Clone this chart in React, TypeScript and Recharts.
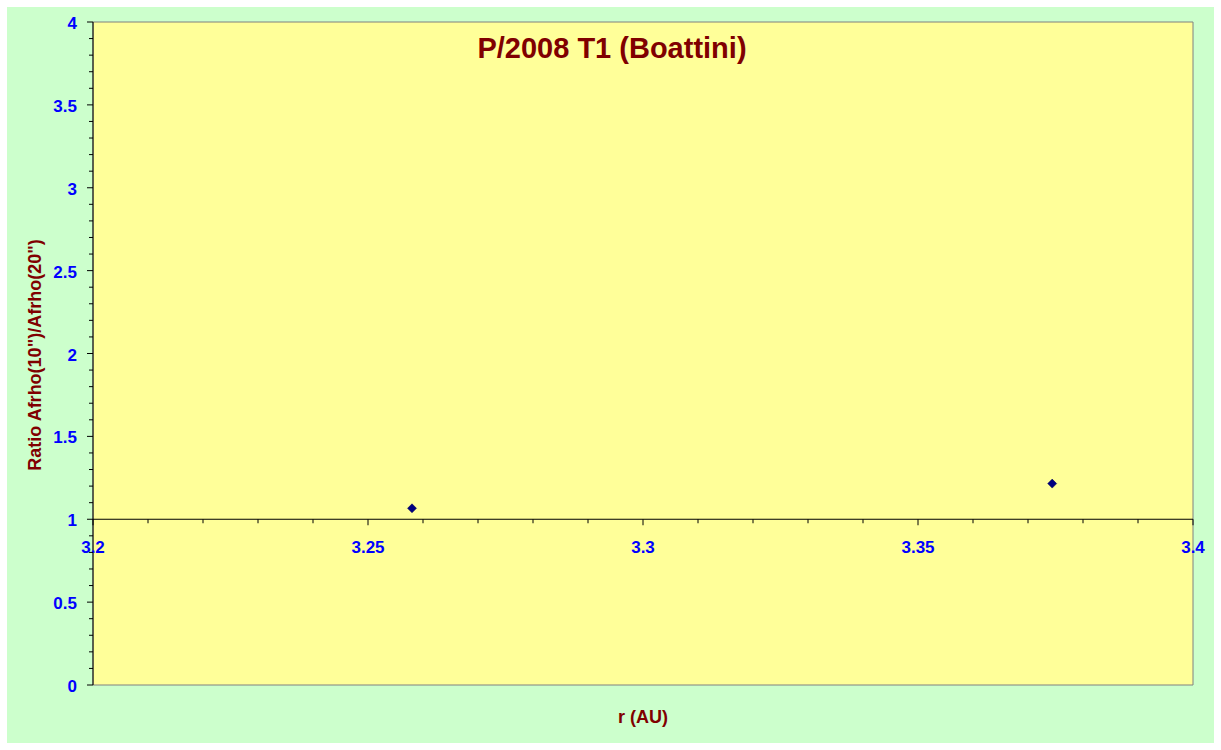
import { ReferenceArea, ReferenceDot, ReferenceLine, Scatter, ScatterChart, XAxis, YAxis } from "recharts";

// r (AU) vs Afrho(10")/Afrho(20")
const rValues = [3.258, 3.3744];
const ratioValues = [1.066, 1.215];

const xMajorTicks = [3.2, 3.25, 3.3, 3.35, 3.4];
const xTickLabels = ["3.2", "3.25", "3.3", "3.35", "3.4"];
const xMinorTicks = [3.21, 3.22, 3.23, 3.24, 3.26, 3.27, 3.28, 3.29, 3.31, 3.32, 3.33, 3.34, 3.36, 3.37, 3.38, 3.39];
const yMajorTicks = [0, 0.5, 1, 1.5, 2, 2.5, 3, 3.5, 4];
const yAllTicks = [
  0, 0.1, 0.2, 0.3, 0.4, 0.5, 0.6, 0.7, 0.8, 0.9, 1, 1.1, 1.2, 1.3, 1.4, 1.5, 1.6, 1.7, 1.8, 1.9, 2,
  2.1, 2.2, 2.3, 2.4, 2.5, 2.6, 2.7, 2.8, 2.9, 3, 3.1, 3.2, 3.3, 3.4, 3.5, 3.6, 3.7, 3.8, 3.9, 4,
];
const X_CROSS = 1; // x axis crosses the y axis at 1

const data = rValues.map((r, i) => ({ r, ratio: ratioValues[i] }));

const FONT = "'Liberation Sans', Arial, sans-serif";
const DARK_RED = "#800000";
const BLUE = "#0000FF";

function YTick(props: any) {
  const { x, y, payload } = props;
  const v = payload.value as number;
  const major = yMajorTicks.some((t) => Math.abs(t - v) < 1e-6);
  return (
    <g>
      <line x1={x - (major ? 6 : 4)} x2={x} y1={y} y2={y} stroke="#000" strokeWidth={1} />
      {major && (
        <text x={x - 16} y={y + 1} dy="0.36em" textAnchor="end" fill={BLUE} fontSize={17} fontWeight="bold" fontFamily={FONT}>
          {String(v)}
        </text>
      )}
    </g>
  );
}

function XMajorTick(label: string) {
  return (props: any) => {
    const { cx, cy } = props;
    return (
      <g>
        <line x1={cx} x2={cx} y1={cy} y2={cy + 6} stroke="#000" strokeWidth={1} />
        <text x={cx} y={cy + 28} dy="0.36em" textAnchor="middle" fill={BLUE} fontSize={17} fontWeight="bold" fontFamily={FONT}>
          {label}
        </text>
      </g>
    );
  };
}

function XMinorTick(props: any) {
  const { cx, cy } = props;
  return <line x1={cx} x2={cx} y1={cy} y2={cy + 4} stroke="#000" strokeWidth={1} />;
}

function Diamond(props: any) {
  const { cx, cy } = props;
  const s = 4.5;
  return (
    <polygon
      points={`${cx},${cy - s} ${cx + s},${cy} ${cx},${cy + s} ${cx - s},${cy}`}
      fill="#000080"
      stroke="#000050"
      strokeWidth={0.5}
    />
  );
}

export default function App() {
  return (
    <div
      style={{
        position: "absolute",
        left: 7,
        top: 7,
        width: 1207,
        height: 736,
        background: "#CCFFCC",
        fontFamily: FONT,
      }}
    >
      <ScatterChart width={1207} height={736} margin={{ top: 15, right: 21, bottom: 58, left: 0 }}>
        <XAxis type="number" dataKey="r" domain={[3.2, 3.4]} ticks={xMajorTicks} hide />
        <YAxis
          type="number"
          dataKey="ratio"
          domain={[0, 4]}
          ticks={yAllTicks}
          interval={0}
          width={86}
          tickSize={0}
          tickMargin={0}
          tickLine={false}
          axisLine={{ stroke: "#000", strokeWidth: 1 }}
          tick={<YTick />}
        />
        <ReferenceArea x1={3.2} x2={3.4} y1={0} y2={4} fill="#FFFF99" fillOpacity={1} stroke="#808080" strokeWidth={1} />
        <ReferenceLine y={X_CROSS} stroke="#000" strokeWidth={1} />
        {xMinorTicks.map((t) => (
          <ReferenceDot key={`m${t}`} x={t} y={X_CROSS} r={0} shape={XMinorTick} />
        ))}
        {xMajorTicks.map((t, i) => (
          <ReferenceDot key={`M${t}`} x={t} y={X_CROSS} r={0} shape={XMajorTick(xTickLabels[i])} />
        ))}
        <Scatter data={data} shape={<Diamond />} isAnimationActive={false} />
      </ScatterChart>
      <div
        style={{
          position: "absolute",
          left: 0,
          width: 1210,
          top: 27,
          lineHeight: 1,
          textAlign: "center",
          color: DARK_RED,
          fontSize: 29,
          fontWeight: "bold",
        }}
      >
        P/2008 T1 (Boattini)
      </div>
      <div
        style={{
          position: "absolute",
          left: 86,
          width: 1100,
          top: 701,
          lineHeight: 1,
          textAlign: "center",
          color: DARK_RED,
          fontSize: 18,
          fontWeight: "bold",
        }}
      >
        r (AU)
      </div>
      <div
        style={{
          position: "absolute",
          left: 28,
          top: 348,
          lineHeight: 1,
          transform: "translate(-50%, -50%) rotate(-90deg)",
          whiteSpace: "nowrap",
          color: DARK_RED,
          fontSize: 18,
          fontWeight: "bold",
        }}
      >
        Ratio Afrho(10")/Afrho(20")
      </div>
    </div>
  );
}
